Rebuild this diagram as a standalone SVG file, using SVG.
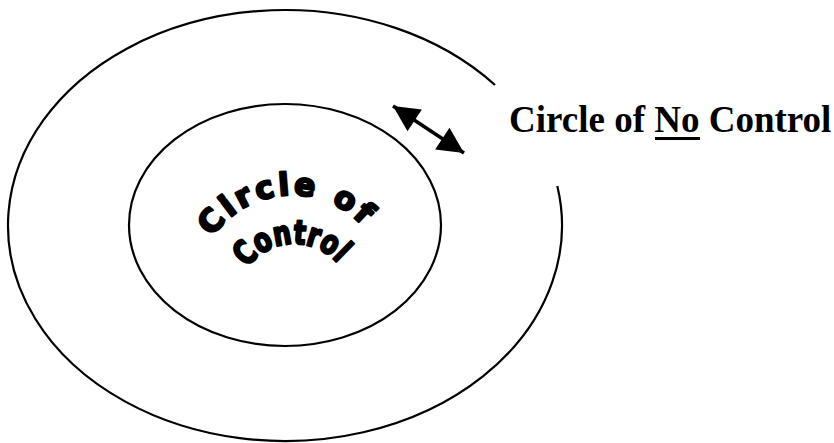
<svg xmlns="http://www.w3.org/2000/svg" width="834" height="443" viewBox="0 0 834 443">
<style>
.ring{fill:none;stroke:#000;stroke-width:2.2}
.arch{font-family:"DejaVu Sans",sans-serif;font-weight:bold;fill:#000;stroke:#000;stroke-width:2.4;stroke-linejoin:round}
.label{font-family:"Liberation Serif","Times New Roman",serif;font-weight:bold;font-size:37px;fill:#000}
</style>
<defs>
<marker id="head" markerUnits="userSpaceOnUse" markerWidth="30" markerHeight="30" refX="26" refY="13" orient="auto-start-reverse" overflow="visible">
<path d="M0,0 L26,13 L0,26 z" fill="#000"/>
</marker>
<path id="arcTop" d="M 212.4 237.2 A 96 96 0 0 1 362.2 225.5"/>
<path id="arcBottom" d="M 247 268 A 58 58 0 0 1 339 265"/>
</defs>
<g id="outer-circle">
<path class="ring" d="M 557.3 186 A 277 215.5 0 1 1 495 85"/>
</g>
<g id="inner-circle">
<ellipse class="ring" cx="285" cy="225" rx="156" ry="121"/>
<text class="arch" font-size="31"><textPath href="#arcTop" textLength="172" lengthAdjust="spacing">Circle of</textPath></text>
<text class="arch" font-size="33"><textPath href="#arcBottom" textLength="104" lengthAdjust="spacingAndGlyphs">Control</textPath></text>
</g>
<g id="connectors">
<line x1="393" y1="106" x2="464" y2="153" stroke="#000" stroke-width="3.5" marker-start="url(#head)" marker-end="url(#head)"/>
</g>
<g id="label-no-control">
<text class="label" x="509" y="132">Circle of No Control</text>
<line x1="655" y1="138.5" x2="700" y2="138.5" stroke="#000" stroke-width="3"/>
</g>
</svg>
